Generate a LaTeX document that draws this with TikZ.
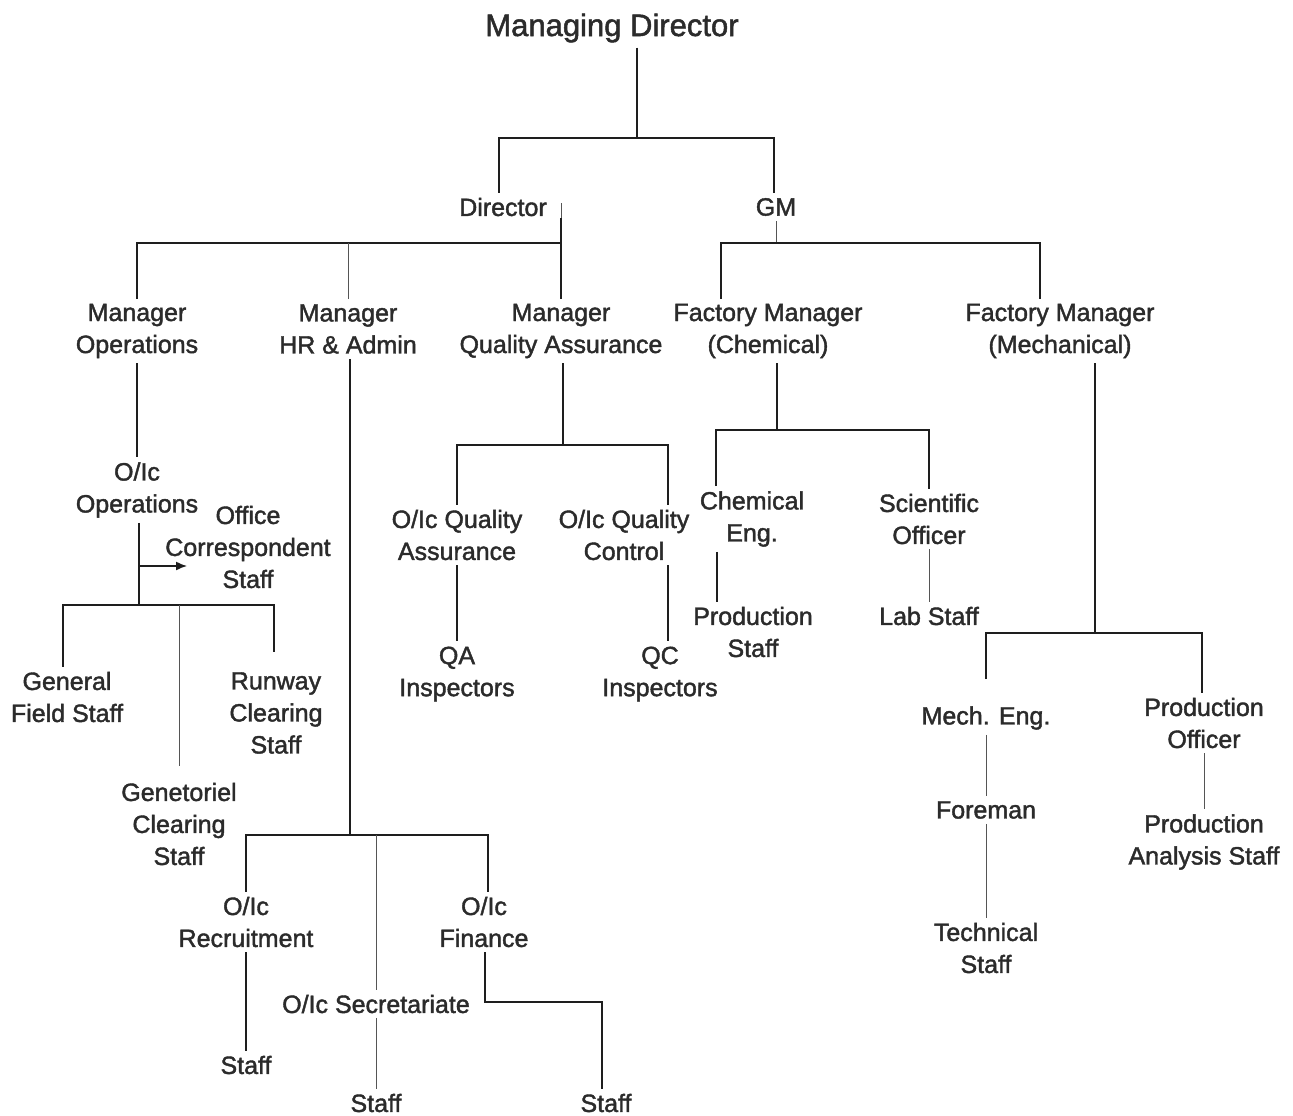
\documentclass[tikz,border=0pt]{standalone}
\usepackage{fontspec}
\setmainfont{Liberation Sans}[FakeBold=1.6]
\usetikzlibrary{arrows.meta}
\definecolor{txt}{HTML}{2B2B2B}
\definecolor{ln}{HTML}{1E1E1E}
\definecolor{lnthin}{HTML}{555555}
\tikzset{
  lbl/.style={align=center, inner sep=5pt, font=\fontsize{25}{32}\selectfont, text=txt},
  thk/.style={line width=2.4pt, draw=ln},
  thn/.style={line width=1pt, draw=lnthin},
  arr/.style={line width=1.4pt, draw=ln, -{Latex[length=11pt,width=9pt]}},
}
\begin{document}
\begin{tikzpicture}[x=1pt,y=-1pt]
\fill[white] (0,0) rectangle (1293,1116);
\useasboundingbox (0,0) rectangle (1293,1116);

% nodes
\node[lbl, font=\fontsize{31}{36}\selectfont] (md) at (612,28) {Managing Director};
\node[lbl] (dir) at (503,207) {Director};
\node[lbl] (gm) at (776,207) {GM};
\node[lbl] (mo) at (137,331) {Manager\\Operations};
\node[lbl] (mhr) at (348,329) {Manager\\HR \& Admin};
\node[lbl] (mqa) at (561,331) {Manager\\Quality Assurance};
\node[lbl] (fmc) at (768,331) {Factory Manager\\(Chemical)};
\node[lbl] (fmm) at (1060,331) {Factory Manager\\(Mechanical)};
\node[lbl] (oops) at (137,490) {O/Ic\\Operations};
\node[lbl] (ocs) at (248,547) {Office\\Correspondent\\Staff};
\node[lbl] (gfs) at (67,697) {General\\Field Staff};
\node[lbl] (rcs) at (276,713) {Runway\\Clearing\\Staff};
\node[lbl] (gcs) at (179,824) {Genetoriel\\Clearing\\Staff};
\node[lbl] (oqa) at (457,535) {O/Ic Quality\\Assurance};
\node[lbl] (oqc) at (624,535) {O/Ic Quality\\Control};
\node[lbl] (qai) at (457,674) {QA\\Inspectors};
\node[lbl] (qci) at (660,674) {QC\\Inspectors};
\node[lbl] (ce) at (752,519) {Chemical\\Eng.};
\node[lbl] (so) at (929,519) {Scientific\\Officer};
\node[lbl] (ps) at (753,632) {Production\\Staff};
\node[lbl] (ls) at (929,616) {Lab Staff};
\node[lbl] (me) at (986,718) {Mech. Eng.};
\node[lbl] (po) at (1204,723) {Production\\Officer};
\node[lbl] (fo) at (986,810) {Foreman};
\node[lbl] (ts) at (986,948) {Technical\\Staff};
\node[lbl] (pas) at (1204,842) {Production\\Analysis Staff};
\node[lbl] (orc) at (246,922) {O/Ic\\Recruitment};
\node[lbl] (osec) at (376,1004) {O/Ic Secretariate};
\node[lbl] (ofi) at (484,922) {O/Ic\\Finance};
\node[lbl] (s1) at (246,1065) {Staff};
\node[lbl] (s2) at (376,1103) {Staff};
\node[lbl] (s3) at (606,1103) {Staff};

% junction coordinates
\coordinate (j0) at (637,138);
\coordinate (j1) at (561,243);
\coordinate (j2) at (776,243);
\coordinate (j3) at (139,605);
\coordinate (ja) at (139,566);
\coordinate (jat) at (187,566);
\coordinate (j4) at (350,835);
\coordinate (j5) at (485,1002);
\coordinate (j6) at (563,445);
\coordinate (j7) at (777,430);
\coordinate (j8) at (1095,633);
\coordinate (x721) at (721,0);
\coordinate (x1040) at (1040,0);
\coordinate (x63) at (63,0);
\coordinate (x274) at (274,0);
\coordinate (x668) at (668,0);
\coordinate (x716) at (716,0);
\coordinate (x717) at (717,0);
\coordinate (x1202) at (1202,0);
\coordinate (x602) at (602,0);

% connectors
\draw[thk] (md.south -| j0) -- (j0);
\draw[thk] (dir.north -| 499,0) |- (j0) -| (gm.north -| 774,0);
\draw[thn] ([yshift=4pt]dir.east -| j1) -- ([yshift=-11pt]dir.east -| j1);
\draw[thk] ([yshift=-11pt]dir.east -| j1) -- (mqa.north -| j1);
\draw[thk] (mo.north) |- (j1);
\draw[thn] (mhr.north) -- (mhr.north |- j1);
\draw[thn] (gm.south) -- (j2);
\draw[thk] (fmc.north -| x721) |- (j2) -| (fmm.north -| x1040);

\draw[thk] (mo.south) -- (oops.north);
\draw[thk] (oops.south -| j3) -- (j3);
\draw[arr] (ja) -- (jat);
\draw[thk] (gfs.north -| x63) |- (j3) -| ([yshift=15pt]rcs.north -| x274);
\draw[thn] (j3 -| gcs.north) -- ([yshift=12pt]gcs.north);

\draw[thk] (mhr.south -| j4) -- (j4);
\draw[thk] (orc.north) |- (j4) -| (ofi.north -| 488,0);
\draw[thn] (j4 -| osec.north) -- (osec.north);
\draw[thk] (orc.south) -- (s1.north);
\draw[thn] (osec.south) -- (s2.north);
\draw[thk] (ofi.south -| j5) -- (j5) -| (s3.north -| x602);

\draw[thk] (mqa.south -| j6) -- (j6);
\draw[thk] (oqa.north) |- (j6) -| (oqc.north -| x668);
\draw[thk] (oqa.south) -- (qai.north);
\draw[thk] (oqc.south -| x668) -- (qci.north -| x668);

\draw[thk] (fmc.south -| j7) -- (j7);
\draw[thk] (ce.north -| x716) |- (j7) -| (so.north);
\draw[thk] (ce.south -| x717) -- (ps.north -| x717);
\draw[thn] (so.south) -- (ls.north);

\draw[thk] (fmm.south -| j8) -- (j8);
\draw[thk] ([yshift=22pt]me.north) |- (j8) -| (po.north -| x1202);
\draw[thn] (me.south) -- (fo.north);
\draw[thn] (fo.south) -- (ts.north);
\draw[thn] (po.south) -- (pas.north);
\end{tikzpicture}
\end{document}
